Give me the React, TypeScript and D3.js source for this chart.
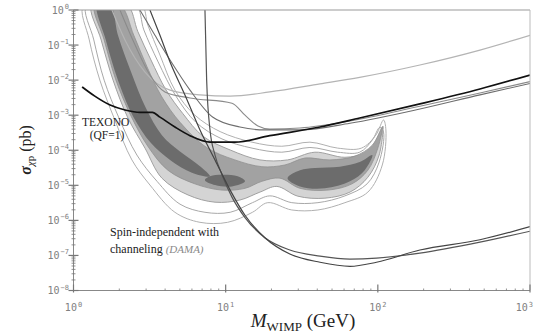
import React from 'react';
import * as d3 from 'd3';

type Pt = [number, number];

// [mass GeV, sigma pb]
const texono: Pt[] = [[1.14, 6.4e-3], [1.38, 3.5e-3], [1.74, 1.95e-3], [2.18, 1.41e-3], [2.73, 1.2e-3], [3.3, 1.2e-3], [3.7, 8.8e-4], [4.64, 4.6e-4], [5.83, 2.6e-4], [7.89, 1.7e-4], [11.5, 1.7e-4], [19.5, 2.6e-4], [41.7, 4.6e-4], [76, 8.3e-4], [189, 2.1e-3], [469, 5.6e-3], [1000, 1.4e-2]];
const limitTop: Pt[] = [[1.79, 1], [2.18, 0.14], [2.95, 1.7e-2], [4.31, 5.2e-3], [6.78, 3.8e-3], [10.7, 3.5e-3], [19.5, 4.6e-3], [41.7, 7.8e-3], [76, 1.2e-2], [189, 2.7e-2], [469, 7.2e-2], [1000, 0.19]];
const limitBump: Pt[] = [[2.02, 1], [2.54, 0.1], [3.18, 1.4e-2], [3.99, 4.6e-3], [5.83, 3.1e-3], [11.0, 2.2e-3], [13.4, 1.0e-3], [16.3, 4.9e-4], [19.5, 4.0e-4], [30.8, 4.3e-4], [65.6, 6.8e-4], [189, 1.8e-3], [469, 4.3e-3], [1000, 9.1e-3]];
const limitDiag: Pt[] = [[2.73, 1], [3.43, 0.19], [4.31, 3.75e-2], [5.83, 5.2e-3], [8.2, 8.9e-4], [12.4, 4.6e-4], [18.1, 3.8e-4], [30.8, 3.8e-4], [65.6, 5.9e-4], [189, 1.5e-3], [469, 3.8e-3], [1000, 8.0e-3]];
const limitSteepA: Pt[] = [[7.31, 1], [7.5, 1.0e-2], [7.89, 3.8e-4], [8.51, 7.3e-5], [9.46, 2.0e-5], [11.0, 4.6e-6], [13.4, 1.2e-6], [18.1, 3.2e-7], [26.4, 1.43e-7], [41.7, 9.6e-8], [65.6, 7.9e-8], [98, 8.4e-8], [189, 1.17e-7], [469, 2.4e-7], [1000, 4.9e-7]];
const limitSteepB: Pt[] = [[3.18, 1], [3.7, 0.19], [4.31, 3.3e-2], [5.4, 3.76e-3], [6.78, 3.8e-4], [8.51, 5.3e-5], [10.7, 7.3e-6], [13.4, 1.4e-6], [18.1, 3.2e-7], [26.4, 1.1e-7], [41.7, 6.4e-8], [65.6, 4.9e-8], [98, 6.4e-8], [189, 1.43e-7], [469, 2.8e-7], [1000, 6.6e-7]];

// DAMA channeling contours, outer to inner
const damaOuter1: Pt[] = [[1.17, 1.4], [1.27, 0.14], [1.49, 1.0e-2], [1.87, 7.3e-4], [2.42, 5.3e-5], [3.18, 1.02e-5], [4.64, 1.7e-6], [6.78, 8.8e-7], [10.3, 8.8e-7], [15.0, 1.7e-6], [18.9, 3.2e-6], [27.2, 1.98e-6], [40.4, 1.98e-6], [60.8, 3.2e-6], [86, 6.4e-6], [107, 3.8e-5], [113, 3.8e-4], [109, 7.3e-4], [97, 2.7e-4], [78, 1.15e-4], [54.5, 1.15e-4], [35.8, 1.7e-4], [23.4, 1.3e-4], [14.9, 1.7e-4], [9.2, 3.4e-4], [6.28, 1.0e-3], [4.64, 5.2e-3], [3.7, 5.2e-2], [3.08, 0.37], [2.78, 1.4]];
const damaOuter2: Pt[] = [[1.22, 1.4], [1.36, 0.14], [1.59, 1.0e-2], [1.99, 8.3e-4], [2.61, 7.3e-5], [3.54, 1.3e-5], [5.01, 2.9e-6], [7.31, 1.7e-6], [10.7, 1.7e-6], [15.0, 3.2e-6], [19.5, 5.0e-6], [27.2, 3.2e-6], [40.4, 3.2e-6], [60.8, 5.0e-6], [85, 1.1e-5], [102, 4.6e-5], [109, 3.3e-4], [103, 4.5e-4], [92, 1.96e-4], [76, 8.8e-5], [54.5, 8.8e-5], [35.8, 1.2e-4], [23.4, 8.8e-5], [14.9, 1.15e-4], [9.46, 2.1e-4], [6.37, 6.3e-4], [4.71, 3.5e-3], [3.6, 3.3e-2], [2.9, 0.27], [2.55, 1.4]];
const damaLight: Pt[] = [[1.32, 1.4], [1.52, 0.14], [1.82, 1.0e-2], [2.28, 8.3e-4], [2.95, 1.15e-4], [3.81, 1.6e-5], [5.66, 5.3e-6], [8.51, 3.3e-6], [12.4, 3.8e-6], [16.8, 6.4e-6], [21.7, 9.3e-6], [29.8, 4.9e-6], [44.9, 4.3e-6], [65.6, 6.4e-6], [86, 1.7e-5], [102, 7.3e-5], [108, 4.9e-4], [101, 2.3e-4], [84, 8.8e-5], [60.8, 6.3e-5], [38.6, 8.8e-5], [25.5, 5.3e-5], [16.8, 5.3e-5], [10.7, 1.02e-4], [7.1, 2.5e-4], [5.24, 1.1e-3], [4.06, 5.2e-3], [3.23, 3.75e-2], [2.65, 0.24], [2.24, 1.4]];
const damaMid: Pt[] = [[1.38, 1.4], [1.59, 0.14], [1.9, 1.0e-2], [2.39, 9.4e-4], [3.08, 1.3e-4], [4.17, 2.7e-5], [6.28, 1.1e-5], [9.46, 7.3e-6], [13.4, 8.2e-6], [17.3, 1.3e-5], [22.7, 1.6e-5], [30.8, 8.2e-6], [47, 7.3e-6], [67.6, 1.1e-5], [86, 2.7e-5], [100, 1.15e-4], [107, 4.6e-4], [92, 1.4e-4], [70.7, 6.8e-5], [48.4, 5.3e-5], [33.2, 6.0e-5], [24.5, 3.8e-5], [17.3, 3.4e-5], [11.5, 5.3e-5], [7.5, 1.2e-4], [5.01, 6.3e-4], [3.81, 3.3e-3], [3.04, 2.4e-2], [2.49, 0.19], [2.02, 1.4]];
const damaDarkStreak: Pt[] = [[1.43, 1.4], [1.63, 0.14], [1.96, 1.0e-2], [2.46, 9.4e-4], [3.23, 1.6e-4], [4.31, 5.3e-5], [6.0, 2.3e-5], [7.89, 1.8e-5], [6.78, 3.5e-5], [5.01, 9.2e-5], [3.81, 2.7e-4], [2.99, 1.6e-3], [2.39, 1.7e-2], [1.96, 0.19], [1.74, 1.4]];
const damaDarkLow: Pt[] = [[7.31, 1.4e-5], [8.51, 1.02e-5], [11.0, 9.3e-6], [13.4, 1.3e-5], [12.0, 1.8e-5], [9.46, 2.0e-5], [7.89, 1.8e-5]];
const damaDarkHigh: Pt[] = [[25.5, 1.6e-5], [30.8, 9.3e-6], [44.9, 8.2e-6], [65.6, 1.3e-5], [82, 2.7e-5], [92, 7.3e-5], [76, 4.6e-5], [56.3, 3.4e-5], [38.6, 3.1e-5], [30.8, 2.7e-5]];

const xDecades = [0, 1, 2, 3];
const yDecades = [0, -1, -2, -3, -4, -5, -6, -7, -8];

const W = 534;
const H = 335;
const left = 73.5;
const right = 530;
const top = 10;
const bottom = 290.5;

const x = d3.scaleLog().domain([1, 1000]).range([left, right]);
const y = d3.scaleLog().domain([1e-8, 1]).range([bottom, top]);

const line = d3.line<Pt>().x(d => x(d[0])).y(d => y(d[1])).curve(d3.curveMonotoneX);
const closed = d3.line<Pt>().x(d => x(d[0])).y(d => y(d[1])).curve(d3.curveCatmullRomClosed.alpha(0.5));

const limits: { pts: Pt[]; color: string; width: number }[] = [
    { pts: limitTop, color: '#b4b4b4', width: 1.2 },
    { pts: limitBump, color: '#8a8a8a', width: 1.1 },
    { pts: limitDiag, color: '#6e6e6e', width: 1.1 },
    { pts: limitSteepA, color: '#555', width: 1.2 },
    { pts: limitSteepB, color: '#444', width: 1.2 },
];

const Sup = ({ base, exp }: { base: string; exp: string }) => (
    <>
        <tspan>{base}</tspan>
        <tspan fontSize={7} dy={-4.5} dx={1}>{exp}</tspan>
    </>
);

const App: React.FC = () => {
    const minor: { v: number; major: boolean }[] = [];
    for (let e = -8; e <= 0; e++) {
        for (let k = 1; k <= 9; k++) {
            const v = k * Math.pow(10, e);
            if (v > 1.0001) break;
            minor.push({ v, major: k === 1 });
        }
    }
    const minorX: { v: number; major: boolean }[] = [];
    for (let e = 0; e <= 3; e++) {
        for (let k = 1; k <= 9; k++) {
            const v = k * Math.pow(10, e);
            if (v > 1000.1) break;
            minorX.push({ v, major: k === 1 });
        }
    }

    return (
        <svg width={W} height={H} style={{ position: 'absolute', left: 0, top: 0, background: '#fff' }}>
            <defs>
                <clipPath id="plot">
                    <rect x={left} y={top} width={right - left} height={bottom - top} />
                </clipPath>
            </defs>

            <g clipPath="url(#plot)">
                <path d={closed(damaOuter1) ?? ''} fill="none" stroke="#b0b0b0" strokeWidth={1} />
                <path d={closed(damaOuter2) ?? ''} fill="none" stroke="#a8a8a8" strokeWidth={1} />
                <path d={closed(damaLight) ?? ''} fill="#d4d4d4" stroke="#a0a0a0" strokeWidth={1} />
                <path d={closed(damaMid) ?? ''} fill="#a2a2a2" stroke="#909090" strokeWidth={0.8} />
                <path d={closed(damaDarkStreak) ?? ''} fill="#6c6c6c" />
                <path d={closed(damaDarkLow) ?? ''} fill="#6c6c6c" />
                <path d={closed(damaDarkHigh) ?? ''} fill="#6c6c6c" />

                {limits.map((l, i) => (
                    <path key={i} d={line(l.pts) ?? ''} fill="none" stroke={l.color} strokeWidth={l.width} />
                ))}
                <path d={line(texono) ?? ''} fill="none" stroke="#111" strokeWidth={1.7} />
            </g>

            {/* frame */}
            <line x1={left} x2={right} y1={top} y2={top} stroke="#999" strokeWidth={1} />
            <line x1={right} x2={right} y1={top} y2={bottom} stroke="#bbb" strokeWidth={1} />
            <line x1={left} x2={right} y1={bottom} y2={bottom} stroke="#888" strokeWidth={1} />
            <line x1={left} x2={left} y1={top} y2={bottom} stroke="#888" strokeWidth={1} />

            {minor.map((t, i) => (
                <line key={'ym' + i} x1={left - (t.major ? 5 : 2)} x2={left + (t.major ? 5 : 2)} y1={y(t.v)} y2={y(t.v)} stroke="#777" strokeWidth={t.major ? 1.2 : 0.8} />
            ))}
            {minorX.map((t, i) => (
                <line key={'xm' + i} x1={x(t.v)} x2={x(t.v)} y1={bottom - (t.major ? 6 : 2)} y2={bottom + (t.major ? 2 : 0)} stroke="#777" strokeWidth={t.major ? 1.2 : 0.8} />
            ))}

            <g fontFamily="'DejaVu Sans Mono', monospace" fontSize={10} fill="#808080">
                {yDecades.map(e => (
                    <text key={'yl' + e} x={69} y={y(Math.pow(10, e)) + 3.5} textAnchor="end">
                        <Sup base="10" exp={e === 0 ? '0' : '\u2212' + Math.abs(e)} />
                    </text>
                ))}
                {xDecades.map(e => (
                    <text key={'xl' + e} x={e === 3 ? 533 : x(Math.pow(10, e))} y={311} textAnchor={e === 3 ? 'end' : 'middle'}>
                        <Sup base="10" exp={String(e)} />
                    </text>
                ))}
            </g>

            <g fontFamily="'Liberation Serif', 'Times New Roman', serif" fill="#222">
                <text x={82} y={126} fontSize={11.5}>TEXONO</text>
                <text x={107} y={139} fontSize={11.5} textAnchor="middle">(QF=1)</text>
                <text x={110} y={236} fontSize={12}>Spin-independent with</text>
                <text x={110} y={253} fontSize={12}>channeling <tspan fontStyle="italic" fill="#888" fontSize={11}>(DAMA)</tspan></text>

                <text x={303} y={327} fontSize={19} textAnchor="middle">
                    <tspan fontStyle="italic">M</tspan>
                    <tspan fontSize={13} dy={4}>WIMP</tspan>
                    <tspan dy={-4}> (GeV)</tspan>
                </text>

                <text transform="translate(31,150) rotate(-90)" fontSize={16} textAnchor="middle">
                    <tspan fontStyle="italic" fontWeight="bold">σ</tspan>
                    <tspan fontSize={11} dy={3} fontStyle="italic">χ</tspan>
                    <tspan fontSize={11}>p</tspan>
                    <tspan dy={-3}> (pb)</tspan>
                </text>
            </g>
        </svg>
    );
};

export default App;
